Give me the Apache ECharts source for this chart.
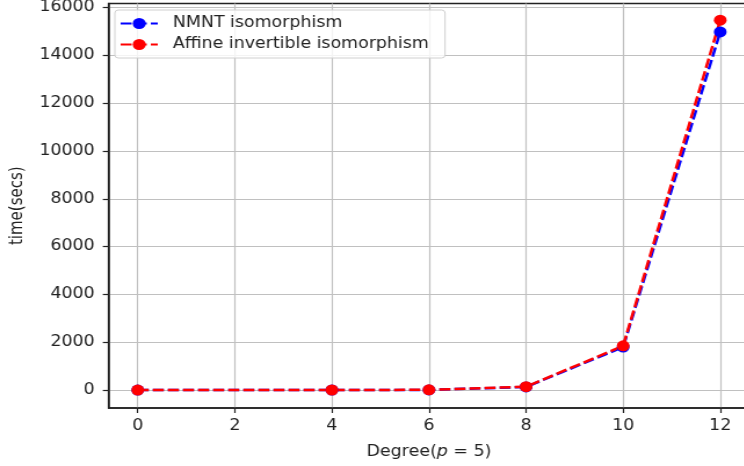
<!DOCTYPE html>
<html>
<head>
    <meta charset="utf-8">
    <title>ECharts</title>
    <script src="https://cdn.jsdelivr.net/npm/echarts@6/dist/echarts.min.js"></script>
    <style>
        html, body { margin: 0; padding: 0; background: #fff; overflow: hidden; }
        /* the reference picture is stretched sideways, so the chart is too */
        #main { transform: scaleX(1.16); transform-origin: 0 0; }
    </style>
</head>
<body>
    <div id="main" style="width: 660px;height:466px;"></div>
    <script type="text/javascript">

// degree values on the x axis
var degrees = [0, 4, 6, 8, 10, 12];
// time in seconds
var nmntTimes = [2, 3, 8, 130, 1800, 14980];
var affineTimes = [2, 3, 10, 140, 1850, 15470];
var xTicks = [0, 2, 4, 6, 8, 10, 12];
var yTicks = [0, 2000, 4000, 6000, 8000, 10000, 12000, 14000, 16000];

var font = 'DejaVu Sans';
var ink = '#222';

function pairs(xs, ys) {
    return xs.map(function (x, i) { return [x, ys[i]]; });
}

function lineSeries(name, color, values) {
    return {
        name: name,
        type: 'line',
        data: pairs(degrees, values),
        symbol: 'circle',
        symbolSize: 11,
        showSymbol: true,
        itemStyle: { color: color },
        lineStyle: { color: color, width: 2.5, type: [9.5, 3.5] },
        emphasis: { disabled: true },
        clip: false
    };
}

var myChart = echarts.init(document.getElementById('main'));

var option = {
    animation: false,
    textStyle: { fontFamily: font },
    grid: {
        left: 91,
        top: 2,
        right: 14,
        bottom: 58,
        show: true,
        borderColor: ink,
        borderWidth: 1.5,
        backgroundColor: 'transparent'
    },
    legend: {
        orient: 'vertical',
        left: 99,
        top: 10,
        padding: [6, 14, 6, 4],
        itemGap: 6,
        itemWidth: 32,
        itemHeight: 14,
        backgroundColor: 'rgba(255,255,255,0.8)',
        borderColor: '#d0d0d0',
        borderWidth: 1,
        borderRadius: 3,
        textStyle: { fontFamily: font, fontSize: 15, color: ink, padding: [0, 0, 0, 8] },
        data: ['NMNT isomorphism', 'Affine invertible isomorphism']
    },
    xAxis: {
        type: 'value',
        min: -0.6,
        max: 12.6,
        name: 'Degree({i|p} = 5)',
        nameLocation: 'middle',
        nameGap: 37,
        nameTextStyle: {
            fontFamily: font, fontSize: 15, color: ink,
            rich: { i: { fontFamily: font, fontSize: 15, fontStyle: 'italic', color: ink } }
        },
        axisLine: { onZero: false, lineStyle: { color: ink, width: 1.5 } },
        axisTick: { show: true, length: 5, customValues: xTicks, lineStyle: { color: ink, width: 1.2 } },
        axisLabel: {
            customValues: xTicks, margin: 11, fontSize: 15, color: ink, fontFamily: font,
            formatter: function (v) { return String(v); }
        },
        splitLine: { show: true, lineStyle: { color: '#c0c0c0', width: 1.2 } }
    },
    yAxis: {
        type: 'value',
        min: -750,
        max: 16167,
        name: 'time(secs)',
        nameLocation: 'middle',
        nameGap: 70,
        nameTextStyle: { fontFamily: font, fontSize: 15, color: ink },
        axisLine: { show: true, onZero: false, lineStyle: { color: ink, width: 1.5 } },
        axisTick: { show: true, length: 5, customValues: yTicks, lineStyle: { color: ink, width: 1.2 } },
        axisLabel: {
            customValues: yTicks, margin: 12, fontSize: 15, color: ink, fontFamily: font,
            formatter: function (v) { return String(v); }
        },
        splitLine: { show: true, lineStyle: { color: '#c0c0c0', width: 1.2 } }
    },
    series: [
        lineSeries('NMNT isomorphism', '#0000ff', nmntTimes),
        lineSeries('Affine invertible isomorphism', '#ff0000', affineTimes)
    ]
};

myChart.setOption(option);
    </script>
</body>
</html>
